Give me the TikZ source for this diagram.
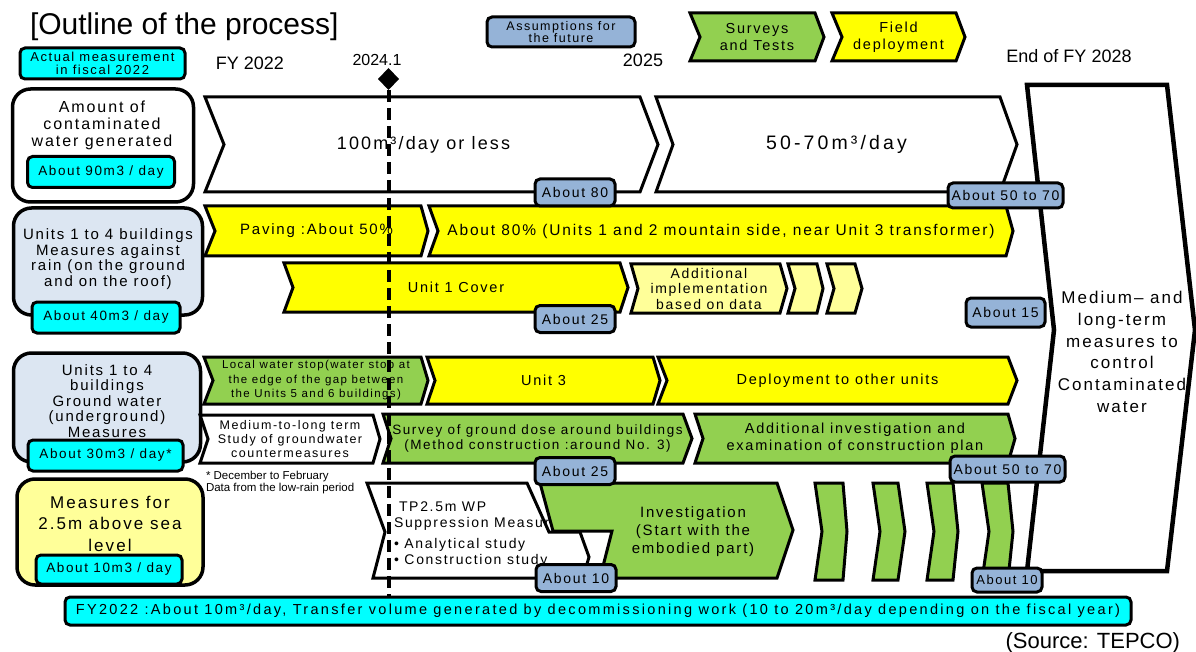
\documentclass[tikz,border=0pt]{standalone}
\usepackage{fontspec}
\setmainfont{Liberation Sans}
\newfontfamily\trk[LetterSpace=12]{Liberation Sans}
\newfontfamily\trkwide[LetterSpace=16]{Liberation Sans}
\usetikzlibrary{shapes.geometric}

\definecolor{tagblue}{HTML}{95B3D7}
\definecolor{paleblue}{HTML}{DCE6F2}
\definecolor{paleyellow}{HTML}{FFFF99}
\definecolor{leaf}{HTML}{92D050}
\definecolor{aqua}{HTML}{00FFFF}
\definecolor{lemon}{HTML}{FFFF00}

\newcommand\fs[2]{\fontsize{#1}{#2}\selectfont}

% chevron: name, path style, x1, x2, y1, y2, left notch depth, right tip depth, [node options]{text}
\newcommand\chevron[9]{%
  \path[ol,#2] (#3,#5) -- ({#4-#8},#5) -- (#4,{(#5+#6)/2}) -- ({#4-#8},#6)
    -- (#3,#6) -- ({#3+#7},{(#5+#6)/2}) -- cycle;
  \node[align=center] (#1) at ({(#3+#4)/2},{(#5+#6)/2}) #9;%
}

\tikzset{
  ol/.style={draw=black, line width=3pt},
  sidebox/.style={draw=black, line width=3.5pt, rounded corners=18pt},
  tagbox/.style={draw=black, line width=3pt, rounded corners=5pt},
  tag/.style={tagbox, fill=tagblue, minimum width=80, minimum height=27,
    font=\trk\fs{14}{16}},
  cyantag/.style={tagbox, fill=aqua, minimum height=31, font=\trk\fs{13.5}{15}},
}

\begin{document}
\begin{tikzpicture}[x=1pt, y=-1pt, every node/.style={inner sep=0pt, outer sep=0pt}]
\useasboundingbox (0,0) rectangle (1196,652);
\fill[white] (0,0) rectangle (1196,652);

% heading and legend
\node[anchor=base west, font=\fs{30}{32}] (title) at (30,35) {[Outline of the process]};
\node[tagbox, fill=aqua, minimum width=165, minimum height=31, align=center,
  font=\trk\fs{13}{13}] (legactual) at (102.5,63.5) {Actual measurement\\in fiscal 2022};
\node[tagbox, fill=tagblue, minimum width=148, minimum height=30, align=center,
  font=\trk\fs{12.5}{12}] (legassume) at (561,32) {Assumptions for\\the future};
\chevron{legsurvey}{fill=leaf}{690}{824}{13}{61}{10}{9}{[font=\trk\fs{14.5}{17}]{Surveys\\and Tests}}
\chevron{legfield}{fill=lemon}{832}{965}{13}{61}{10}{9}{[font=\trk\fs{14.5}{17}]{Field\\deployment}}

% time axis labels
\node[anchor=base, font=\fs{18}{20}] (fy22) at (250,70) {FY 2022};
\node[anchor=base, font=\fs{16}{18}] (jan24) at (377,66) {2024.1};
\node[anchor=base, font=\fs{18}{20}] (fy25) at (643,67) {2025};
\node[anchor=base, font=\fs{18}{20}] (fy28) at (1069,63) {End of FY 2028};

% row 1: amount generated
\node[sidebox, fill=white, minimum width=181, minimum height=113] (amtbox) at (103,145.5) {};
\node[align=center, font=\trk\fs{16}{17}] (amttext) at (102,125) {Amount of\\contaminated\\water generated};
\node[cyantag, minimum width=147] (amtval) at (101,172) {About 90m3 / day};
\chevron{rate1}{fill=white}{205}{658}{97}{192}{19}{18}{[font=\trk\fs{18}{20}, xshift=-8]{100m³/day or less}}
\chevron{rate2}{fill=white}{656}{1017}{97}{192}{17}{17}{[font=\trkwide\fs{19.5}{21}]{50-70m³/day}}

% row 2: rain measures
\node[sidebox, fill=paleblue, minimum width=189, minimum height=107] (rainbox) at (108,261.5) {};
\node[align=center, font=\trk\fs{15}{15.7}] (raintext) at (108,259) {Units 1 to 4 buildings\\Measures against\\rain (on the ground\\and on the roof)};
\node[cyantag, minimum width=148] (rainval) at (106,317.5) {About 40m3 / day};
\chevron{paving}{fill=lemon}{205}{428}{206}{256}{10}{7}{[font=\trk\fs{15}{17}]{Paving :About 50\%}}
\chevron{paving80}{fill=lemon}{429}{1013}{206}{256}{9}{7}{[font=\trk\fs{15.5}{17}]{About 80\% (Units 1 and 2 mountain side, near Unit 3 transformer)}}
\chevron{cover}{fill=lemon}{284}{628}{263}{312}{9}{8}{[font=\trk\fs{14.5}{17}]{Unit 1 Cover}}
\chevron{addimpl}{fill=paleyellow}{631}{787}{264}{313}{7}{7}{[font=\trk\fs{14}{15.5}]{Additional\\implementation\\based on data}}
\chevron{next1}{fill=paleyellow}{788}{823}{264}{313}{7}{6}{{}}
\chevron{next2}{fill=paleyellow}{827}{862}{264}{313}{7}{7}{{}}

% row 3: groundwater measures
\node[sidebox, fill=paleblue, minimum width=187, minimum height=109] (gwbox) at (107,407.5) {};
\node[align=center, font=\trk\fs{15}{15.5}] (gwtext) at (107,401) {Units 1 to 4\\buildings\\Ground water\\(underground)\\Measures};
\node[cyantag, minimum width=155] (gwval) at (105.5,455.5) {About 30m3 / day*};
\chevron{localstop}{fill=leaf}{204}{428}{357}{404}{9}{7}{[font=\trk\fs{11.5}{14.5}]{Local water stop(water stop at\\the edge of the gap between\\the Units 5 and 6 buildings)}}
\chevron{unit3}{fill=lemon}{427}{660}{357}{404}{8}{7}{[font=\trk\fs{14.5}{17}]{Unit 3}}
\chevron{deploy}{fill=lemon}{658}{1017}{357}{404}{9}{9}{[font=\trk\fs{14.5}{17}]{Deployment to other units}}
\chevron{gwstudy}{fill=white}{200}{380}{415}{463}{8}{7}{[font=\trk\fs{12.5}{14}]{Medium-to-long term\\Study of groundwater\\countermeasures}}
\chevron{dosesurvey}{fill=leaf}{383}{692}{414}{463}{8}{9}{[font=\trk\fs{13.5}{15.5}]{Survey of ground dose around buildings\\(Method construction :around No. 3)}}
\chevron{addinv}{fill=leaf}{695}{1015}{414}{463}{8}{7}{[font=\trk\fs{14.5}{17}]{Additional investigation and\\examination of construction plan}}
\node[anchor=north west, align=left, font=\fs{11.5}{12}] (note) at (206,471) {* December to February\\Data from the low-rain period};

% row 4: T.P. 2.5 m area
\node[sidebox, fill=paleyellow, minimum width=186, minimum height=106] (tpbox) at (110,532) {};
\node[align=center, font=\trk\fs{17}{21.5}] (tptext) at (110,523.5) {Measures for\\2.5m above sea\\level};
\node[cyantag, minimum width=146, minimum height=29] (tpval) at (109,569.5) {About 10m3 / day};
\draw[ol, fill=white] (367,483) -- (527,483) -- (549,532) -- (580,532) -- (589,557)
  -- (583,578) -- (373,578) -- (385,532) -- cycle;
\node[anchor=north west, align=left, font=\trk\fs{14}{16}] (wpstudy) at (394,502)
  {\hspace{5pt}TP2.5m WP\\Suppression Measures\\[5pt]• Analytical study\\• Construction study};
\draw[ol, fill=leaf] (540,483) -- (777,483) -- (793,530) -- (777,578) -- (600,578)
  -- (612,531) -- (553,531) -- cycle;
\node[align=center, font=\trk\fs{15}{18}] (invest) at (693,532) {Investigation\\(Start with the\\embodied part)};
\chevron{inv1}{fill=leaf}{815}{847}{483}{580}{7}{4}{{}}
\chevron{inv2}{fill=leaf}{873}{905}{483}{580}{7}{7}{{}}
\chevron{inv3}{fill=leaf}{927}{958}{483}{580}{7}{5}{{}}
\chevron{inv4}{fill=leaf}{982}{1013}{483}{580}{7}{5}{{}}

% long-term block
\draw[line width=4.5pt, fill=white] (1027,85) -- (1167,85) -- (1195,330) -- (1167,571)
  -- (1027,571) -- (1054,330) -- cycle;
\node[align=center, font=\trk\fs{17}{21.8}] (longterm) at (1122,352) {Medium– and\\long-term\\measures to\\control\\Contaminated\\water};

% value tags
\node[tag] (v80) at (575,192.5) {About 80};
\node[tag, minimum width=115, minimum height=25] (v5070a) at (1005.5,195.5) {About 50 to 70};
\node[tag] (v25a) at (575,319) {About 25};
\node[tag, minimum width=79, minimum height=29] (v15) at (1005.5,312.5) {About 15};
\node[tag] (v25b) at (575,471) {About 25};
\node[tag, minimum width=115, minimum height=26] (v5070b) at (1007.5,469) {About 50 to 70};
\node[tag] (v10a) at (576,578) {About 10};
\node[tag, minimum width=70, minimum height=24, font=\trk\fs{13}{14}] (v10b) at (1007,580) {About 10};

% transfer bar and current-date marker
\node[tagbox, fill=aqua, minimum width=1066, minimum height=28, font=\trkwide\fs{14.5}{16}] (transfer) at (598,611)
  {FY2022 :About 10m³/day, Transfer volume generated by decommissioning work (10 to 20m³/day depending on the fiscal year)};
\node[diamond, fill=black, minimum width=21, minimum height=22] (now) at (388.5,79) {};
\draw[line width=4pt, dash pattern=on 12pt off 6pt] (now.south) -- (now.south |- transfer.north);

\node[anchor=base east, font=\fs{22}{24}] (source) at (1180,648) {(Source: TEPCO)};
\end{tikzpicture}
\end{document}
